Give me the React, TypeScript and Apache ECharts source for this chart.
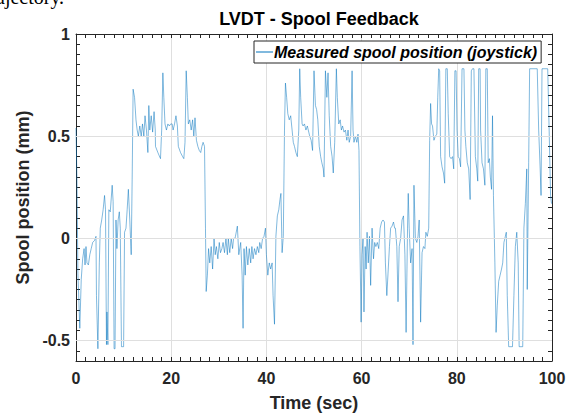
import React, { useEffect, useRef } from "react";
import * as echarts from "echarts";

// Time (s) vs measured spool position (mm), in segments.
const spoolA: [number, number][] = [
  [0, 0.54], [0.2, 0.29], [0.4, -0.17], [0.8, -0.44], [1.1, -0.2], [1.4, -0.1], [1.7, -0.05], [1.9, -0.13],
  [2.1, -0.04], [2.3, -0.12], [2.6, -0.13], [2.9, -0.08], [3.2, -0.05], [3.5, -0.02], [3.9, -0.01], [4.2, 0.01],
  [4.3, -0.28], [4.6, -0.54], [4.9, -0.12], [5.1, 0.05], [5.4, 0.09], [5.7, 0.14], [6.0, 0.21], [6.2, 0.14],
  [6.4, -0.52], [6.5, -0.36], [6.7, -0.52], [6.9, 0.14], [7.2, 0.13], [7.6, 0.26], [7.8, 0.18], [8.0, -0.54],
  [8.2, -0.54], [8.4, 0.09], [8.6, -0.05], [8.85, 0.09], [9.1, 0.13], [9.3, 0.05], [9.55, -0.53], [10.0, -0.53],
  [10.2, 0.03], [10.5, 0.05], [10.75, 0.14], [11.0, 0.24], [11.3, 0.09], [11.6, -0.08], [11.8, 0.29], [12.0, 0.73],
  [12.3, 0.69], [12.6, 0.58], [12.85, 0.53], [13.1, 0.5], [13.4, 0.55], [13.7, 0.5], [13.97, 0.56], [14.25, 0.5],
  [14.5, 0.6], [14.8, 0.53], [15.1, 0.42], [15.3, 0.65], [15.5, 0.53], [15.8, 0.6], [16.1, 0.52], [16.4, 0.62],
  [16.65, 0.53],
];
const spoolB: [number, number][] = [
  [16.7, 0.45], [17.2, 0.42], [17.75, 0.39], [18.0, 0.53], [18.25, 0.81], [18.45, 0.69], [18.7, 0.56], [19.0, 0.53],
  [19.3, 0.56], [19.6, 0.55], [19.9, 0.56], [20.2, 0.56], [20.4, 0.53], [20.7, 0.56], [21.0, 0.6], [21.3, 0.55],
  [21.5, 0.45], [21.96, 0.42], [22.4, 0.4], [22.65, 0.39], [22.9, 0.47], [23.15, 0.82], [23.4, 0.69], [23.6, 0.56],
  [23.9, 0.58], [24.2, 0.53], [24.5, 0.58], [24.75, 0.5], [25.0, 0.59], [25.3, 0.48], [25.6, 0.45], [25.9, 0.43],
  [26.2, 0.42], [26.45, 0.45], [26.7, 0.47], [27.0, 0.45], [27.2, 0.05], [27.35, -0.26], [27.6, -0.18], [27.85, -0.05],
  [28.1, -0.12], [28.4, -0.04], [28.7, -0.15], [29.0, 0.0], [29.25, -0.08], [29.5, -0.04], [29.8, -0.1], [30.1, -0.02],
  [30.35, -0.07], [30.65, -0.05], [30.9, -0.02], [31.2, -0.07], [31.5, 0.0], [31.8, -0.08], [32.0, 0.0], [32.3, -0.07],
  [32.6, 0.0], [32.9, -0.05], [33.1, 0.0],
];
const spoolC: [number, number][] = [
  [33.4, 0.0], [33.5, 0.01], [33.9, 0.06], [34.2, -0.08], [34.6, -0.02], [34.9, -0.18], [35.1, -0.44], [35.3, -0.05],
  [35.55, -0.18], [35.8, -0.04], [36.1, -0.13], [36.4, -0.05], [36.7, -0.12], [36.95, -0.04], [37.2, -0.1], [37.5, -0.05],
  [37.8, -0.08], [38.1, -0.04], [38.4, -0.07], [38.6, -0.02], [38.9, -0.05], [39.2, 0.0], [39.5, 0.01], [39.8, 0.05],
  [40.0, -0.08], [40.3, -0.18], [40.6, -0.12], [40.9, -0.15], [41.2, -0.12], [41.4, -0.28], [41.7, -0.42], [42.0, 0.01],
  [42.3, 0.11], [42.6, 0.14], [42.85, 0.19], [43.05, 0.22], [43.3, -0.07], [43.55, 0.01], [43.8, 0.53], [44.0, 0.76],
  [44.25, 0.69], [44.5, 0.61], [44.8, 0.58], [45.1, 0.6], [45.4, 0.53], [45.65, 0.47], [45.9, 0.45], [46.2, 0.42],
  [46.5, 0.4], [46.8, 0.53], [47.0, 0.83], [47.2, 0.69], [47.5, 0.56], [47.7, 0.55], [48.0, 0.56], [48.3, 0.53],
  [48.6, 0.55], [48.9, 0.52], [49.1, 0.5], [49.4, 0.48], [49.7, 0.43],
];
const spoolD: [number, number][] = [
  [50.0, 0.82], [50.3, 0.65], [50.55, 0.63], [50.8, 0.58], [51.1, 0.45], [51.4, 0.4], [51.65, 0.37], [51.95, 0.34],
  [52.1, 0.3], [52.4, 0.82], [52.7, 0.69], [52.95, 0.81], [53.2, 0.6], [53.5, 0.45], [53.8, 0.4], [54.05, 0.32],
  [54.35, 0.47], [54.7, 0.83], [54.9, 0.69], [55.2, 0.56], [55.5, 0.58], [55.75, 0.53], [56.0, 0.55], [56.3, 0.52],
  [56.6, 0.53], [56.9, 0.48], [57.15, 0.53], [57.4, 0.47], [57.7, 0.5], [58.0, 0.82], [58.2, 0.53], [58.4, 0.47],
  [58.7, 0.5], [59.0, 0.47], [59.25, 0.51], [59.45, 0.43], [59.65, -0.04], [59.9, -0.41], [60.1, -0.08], [60.3, 0.0],
  [60.5, -0.36], [60.75, -0.04], [60.95, -0.15], [61.15, 0.03], [61.4, -0.12], [61.65, 0.01], [61.9, -0.23], [62.2, 0.05],
  [62.5, -0.1], [62.75, -0.02], [63.0, -0.04], [63.3, -0.02], [63.6, -0.05], [63.9, 0.05], [64.2, 0.08], [64.5, 0.09],
  [64.8, 0.08], [65.0, -0.12], [65.3, -0.28], [65.6, -0.15], [65.85, -0.04], [66.1, 0.05], [66.4, 0.06], [66.7, 0.08],
  [66.95, 0.05],
];
const spoolE: [number, number][] = [
  [67.1, 0.05], [67.4, -0.04], [67.65, -0.31], [67.9, -0.04], [68.2, 0.0], [68.5, 0.09], [68.8, 0.11], [69.1, -0.08],
  [69.35, -0.46], [69.65, 0.05], [69.8, 0.22], [70.0, 0.05], [70.3, -0.12], [70.6, -0.05], [70.8, -0.52], [71.0, 0.26],
  [71.3, 0.0], [71.6, -0.02], [71.85, 0.01], [72.1, 0.09], [72.4, -0.41], [72.7, -0.07], [73.0, -0.04], [73.3, -0.05],
  [73.5, 0.03], [73.8, 0.01], [74.1, 0.05], [74.3, 0.48], [74.5, 0.66], [74.7, 0.56], [74.9, 0.55], [75.2, 0.48],
  [75.5, 0.5], [75.8, 0.51], [76.0, 0.69], [76.2, 0.83], [76.4, 0.82], [76.6, 0.4], [76.9, 0.35], [77.2, 0.32],
  [77.45, 0.27], [77.7, 0.83], [78.0, 0.83], [78.2, 0.61], [78.5, 0.4], [78.8, 0.39], [79.1, 0.4], [79.35, 0.34],
  [79.6, 0.82], [79.85, 0.82], [80.05, 0.53], [80.3, 0.4], [80.55, 0.39], [80.8, 0.35], [81.1, 0.83], [81.5, 0.83],
  [81.7, 0.53], [81.9, 0.45], [82.2, 0.37], [82.5, 0.34], [82.8, 0.19], [83.05, 0.82], [83.3, 0.83], [83.6, 0.83],
];
const spoolF: [number, number][] = [
  [83.9, 0.4], [84.2, 0.34], [84.4, 0.28], [84.6, 0.83], [84.9, 0.83], [85.0, 0.53], [85.3, 0.37], [85.6, 0.34],
  [85.9, 0.26], [86.1, 0.83], [86.4, 0.83], [86.6, 0.37], [86.85, 0.39], [87.05, 0.3], [87.3, 0.24], [87.5, 0.6],
  [87.7, 0.21], [88.0, -0.12], [88.25, -0.46], [88.5, -0.33], [88.8, -0.21], [89.1, -0.18], [89.4, -0.15], [89.65, -0.12],
  [89.9, -0.02], [90.2, 0.01], [90.4, 0.03], [90.6, -0.28], [90.9, -0.53], [91.7, -0.53], [92.0, -0.28], [92.3, -0.04],
  [92.6, 0.03], [92.9, -0.12], [93.1, -0.53], [93.85, -0.53], [94.1, 0.05], [94.4, 0.17], [94.7, 0.34], [94.8, -0.25],
  [95.1, 0.37], [95.3, 0.83], [96.9, 0.83], [97.2, 0.53], [97.5, 0.35], [97.7, 0.21], [97.9, 0.83], [99.1, 0.83],
  [99.4, 0.53], [99.7, 0.21], [99.9, 0.17],
];

const xTicks = { min: 0, max: 100, step: 20 };
const yTicks = { min: -0.6, max: 1, step: 0.05 };
const yLabelValues = [-0.5, 0, 0.5, 1];
const gridLineValues = [-0.5, 0, 0.5];

const TITLE = "LVDT - Spool Feedback";
const SERIES_NAME = "Measured spool position (joystick)";
const X_NAME = "Time (sec)";
const Y_NAME = "Spool position (mm)";

const FONT = "'Liberation Sans', Arial, Helvetica, sans-serif";
const INK = "#262626";
const LINE = "#0072BD";

export default function App() {
  const ref = useRef<HTMLDivElement>(null);
  useEffect(() => {
    if (!ref.current) return;
    const chart = echarts.init(ref.current, undefined, { renderer: "svg" });
    const data = [...spoolA, ...spoolB, ...spoolC, ...spoolD, ...spoolE, ...spoolF];
    const tickStyle = { show: true, inside: true, length: 4, lineStyle: { color: INK, width: 1 } };
    const lineStyleAxis = { show: true, onZero: false, lineStyle: { color: INK, width: 1 } };
    const yFormatter = (v: number) => {
      const r = Math.round(v * 100);
      return yLabelValues.some((l) => Math.round(l * 100) === r) ? String(r / 100) : "";
    };
    chart.setOption({
      animation: false,
      backgroundColor: "#ffffff",
      textStyle: { fontFamily: FONT },
      title: {
        text: TITLE,
        left: 314,
        top: 5,
        textAlign: "center",
        textStyle: { fontFamily: FONT, fontSize: 18, fontWeight: "bold", color: "#000" },
      },
      graphic: [
        {
          type: "text",
          left: -4,
          top: -13,
          style: { text: "ajectory.", font: "20px 'Liberation Serif', 'DejaVu Serif', serif", fill: "#000" },
        },
      ],
      legend: {
        show: true,
        data: [{ name: SERIES_NAME, icon: "rect" }],
        left: 254,
        top: 41,
        padding: [3, 4, 3, 2],
        itemWidth: 17,
        itemHeight: 1,
        itemGap: 2,
        backgroundColor: "#ffffff",
        borderColor: INK,
        borderWidth: 1,
        borderRadius: 0,
        itemStyle: { color: LINE },
        textStyle: { fontFamily: FONT, fontSize: 16, fontWeight: "bold", fontStyle: "italic", color: "#000", padding: [0, 0, 0, -4] },
      },
      grid: { left: 76, right: 27, top: 34, bottom: 55, containLabel: false },
      xAxis: [
        {
          type: "value",
          position: "bottom",
          min: xTicks.min,
          max: xTicks.max,
          interval: xTicks.step,
          axisLine: lineStyleAxis,
          axisTick: tickStyle,
          minorTick: { show: true, splitNumber: 10, length: 4, lineStyle: { color: INK, width: 1 } },
          splitLine: { show: true, lineStyle: { color: "#dfdfdf", width: 1 } },
          axisLabel: { fontFamily: FONT, fontSize: 16, fontWeight: "bold", color: INK, margin: 9 },
          name: X_NAME,
          nameLocation: "middle",
          nameGap: 33,
          nameTextStyle: { fontFamily: FONT, fontSize: 18, fontWeight: "bold", color: INK },
        },
        {
          type: "value",
          position: "top",
          min: xTicks.min,
          max: xTicks.max,
          interval: xTicks.step,
          axisLine: lineStyleAxis,
          axisTick: tickStyle,
          minorTick: { show: true, splitNumber: 10, length: 4, lineStyle: { color: INK, width: 1 } },
          splitLine: { show: false },
          axisLabel: { show: false },
        },
      ],
      yAxis: [
        {
          type: "value",
          position: "left",
          min: yTicks.min,
          max: yTicks.max,
          interval: yTicks.step,
          axisLine: lineStyleAxis,
          axisTick: tickStyle,
          splitLine: { show: false },
          axisLabel: { fontFamily: FONT, fontSize: 16, fontWeight: "bold", color: INK, margin: 6, formatter: yFormatter },
          name: Y_NAME,
          nameLocation: "middle",
          nameRotate: 90,
          nameGap: 34,
          nameTextStyle: { fontFamily: FONT, fontSize: 18, fontWeight: "bold", color: INK },
        },
        {
          type: "value",
          position: "right",
          min: yTicks.min,
          max: yTicks.max,
          interval: yTicks.step,
          axisLine: lineStyleAxis,
          axisTick: tickStyle,
          splitLine: { show: false },
          axisLabel: { show: false },
        },
      ],
      series: [
        {
          name: "grid",
          type: "line",
          data: [],
          z: 1,
          silent: true,
          markLine: {
            silent: true,
            symbol: ["none", "none"],
            label: { show: false },
            lineStyle: { color: "#dfdfdf", width: 1, type: "solid" },
            data: gridLineValues.map((v) => ({ yAxis: v })),
          },
        },
        {
          name: SERIES_NAME,
          type: "line",
          xAxisIndex: 0,
          yAxisIndex: 0,
          data,
          showSymbol: false,
          symbol: "none",
          z: 3,
          lineStyle: { color: LINE, width: 0.5 },
          itemStyle: { color: LINE },
        },
      ],
    });
    return () => chart.dispose();
  }, []);
  return <div ref={ref} style={{ position: "absolute", left: 0, top: 0, width: 579, height: 417 }} />;
}
